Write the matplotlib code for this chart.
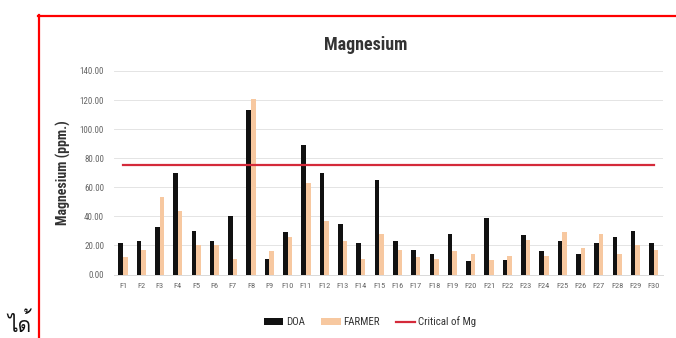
import numpy as np
import matplotlib
matplotlib.use("Agg")
import matplotlib.pyplot as plt
from matplotlib import font_manager
from matplotlib.lines import Line2D

# --- data -------------------------------------------------------------
farms = [f"F{i}" for i in range(1, 31)]
doa = [22, 23, 33, 70, 30, 23, 40, 113, 11, 29, 89, 70, 35, 22, 65,
       23, 17, 14, 28, 9, 39, 10, 27, 16, 23, 14, 22, 26, 30, 22]
farmer = [12, 17, 53, 44, 20, 20, 11, 121, 16, 26, 63, 37, 23, 11, 28,
          17, 12, 11, 16, 14, 10, 13, 24, 13, 29, 18, 28, 14, 20, 17]
critical_mg = 75
y_ticks = [0, 20, 40, 60, 80, 100, 120, 140]
side_note = "ได้"


def font_with_glyph(ch):
    """Return the name of an installed font that can draw ch, if any."""
    try:
        from fontTools.ttLib import TTFont
    except ImportError:
        return None
    for fe in font_manager.fontManager.ttflist:
        try:
            cmap = TTFont(fe.fname, fontNumber=0, lazy=True).getBestCmap()
        except Exception:
            continue
        if cmap and ord(ch) in cmap:
            return fe.name
    return None


# pick a narrow face for the chart text when one is installed
names = {f.name for f in font_manager.fontManager.ttflist}
narrow = "DejaVu Sans"
stretch = "condensed"
for cand in ("Liberation Sans Narrow", "Roboto Condensed", "Open Sans Condensed"):
    if cand in names:
        narrow, stretch = cand, "normal"
        break

fig = plt.figure(figsize=(6.76, 3.38), dpi=100)
W, H = 676, 338

ax = fig.add_axes([113.8 / W, 63.5 / H, (662.9 - 113.8) / W, (267 - 63.5) / H])
x = np.arange(len(farms))
bw = 0.25
b1 = ax.bar(x - bw / 2, doa, width=bw, color="#111111", label="DOA", zorder=3)
b2 = ax.bar(x + bw / 2, farmer, width=bw, color="#f7c8a0", label="FARMER", zorder=3)
ln, = ax.plot([x[0], x[-1]], [critical_mg, critical_mg], color="#d42a3a", lw=1.6,
              label="Critical of Mg", zorder=4)

ax.set_xlim(-0.5, len(farms) - 0.5)
ax.set_ylim(0, 140)
ax.set_yticks(y_ticks)
ax.set_yticklabels([f"{v:.2f}" for v in y_ticks], fontsize=6.5, color="#666666",
                   family=narrow, fontstretch=stretch)
ax.set_xticks(x)
ax.set_xticklabels(farms, fontsize=6, color="#666666", family=narrow,
                   fontstretch=stretch)
ax.tick_params(length=0)
ax.tick_params(axis="x", pad=6)
ax.tick_params(axis="y", pad=7)
ax.grid(axis="y", color="#e4e4e4", lw=0.7, zorder=0)
for s in ("top", "right", "left"):
    ax.spines[s].set_visible(False)
ax.spines["bottom"].set_color("#d9d9d9")
ax.spines["bottom"].set_linewidth(0.7)

ax.set_ylabel("Magnesium (ppm.)", fontsize=10, fontweight="bold",
              color="#333333", labelpad=6, family=narrow, fontstretch=stretch)

fig.text(366 / W, 1 - 45 / H, "Magnesium", ha="center", va="center",
         fontsize=13, fontweight="bold", color="#333333", family=narrow,
         fontstretch=stretch)

leg = fig.legend([b1, b2, ln], ["DOA", "FARMER", "Critical of Mg"],
                 loc="center", bbox_to_anchor=(370 / W, 1 - 322 / H), ncol=3,
                 frameon=False, handlelength=1.8, handleheight=0.6,
                 columnspacing=1.5, handletextpad=0.25,
                 prop={"family": narrow, "size": 7.8, "stretch": stretch})
for t in leg.get_texts():
    t.set_color("#333333")

# red frame around the chart
fig.add_artist(Line2D([38 / W, 1.0], [1 - 15.8 / H, 1 - 15.8 / H],
                      transform=fig.transFigure, color="#ff0000", lw=1.6))
fig.add_artist(Line2D([38.8 / W, 38.8 / W], [0, 1 - 15 / H],
                      transform=fig.transFigure, color="#ff0000", lw=1.6))

thai = font_with_glyph("ด")
fam = [thai, "DejaVu Sans"] if thai else ["DejaVu Sans"]
fig.text(7 / W, 6 / H, side_note, ha="left", va="baseline", fontsize=15,
         color="#111111", family=fam)

fig.savefig("out.png", dpi=100)
